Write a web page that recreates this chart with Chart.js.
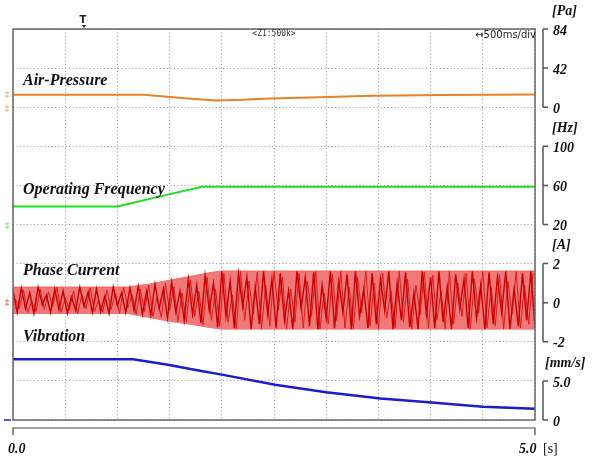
<!DOCTYPE html>
<html>
<head>
<meta charset="utf-8">
<script src="https://cdn.jsdelivr.net/npm/chart.js@4/dist/chart.umd.min.js"></script>
<style>
    body { margin: 0; background: #fff; }
    #wrap { width: 594px; height: 460px; }
</style>
</head>
<body>
<div id="wrap"><canvas id="scope" width="594" height="460"></canvas></div>
<script>
// time axis [s]
const timeMin = 0;
const timeMax = 5.0;
const timeStep = 0.5;

// air pressure [Pa]
const pressureTimes = [0, 1.25, 1.48, 1.67, 1.95, 2.2, 2.46, 2.84, 3.45, 4.12, 5.0];
const pressureValues = [13.5, 13.5, 11.1, 9.4, 7.2, 7.9, 9.4, 10.4, 12.2, 13.2, 13.6];

// operating frequency [Hz]
const freqTimes = [0, 1.0, 1.4, 1.81, 5.0];
const freqValues = [38.5, 38.5, 48.5, 58.5, 58.5];

// phase current [A] : envelope + two sampled traces (one sample every 0.04 s, second one shifted 0.02 s)
const envTimes = [0, 1.1, 1.3, 1.5, 1.7, 1.9, 2.0, 5.0];
const envUpper = [0.8, 0.8, 0.95, 1.15, 1.35, 1.55, 1.62, 1.62];
const envLower = [-0.55, -0.55, -0.75, -0.95, -1.1, -1.28, -1.35, -1.35];
const currentStep = 0.04;
const currentValues = [
    0.6, -0.5, 0.75, -0.3, 0.5, -0.55, 0.8, -0.1, 0.4, -0.5,
    0.7, -0.35, 0.6, -0.55, 0.3, -0.4, 0.8, -0.2, 0.55, -0.5,
    0.7, -0.45, 0.35, -0.55, 0.8, -0.15, 0.5, -0.5, 0.75, -0.4,
    0.85, -0.6, 0.6, -0.65, 0.95, -0.3, 0.7, -0.8, 1.05, -0.5,
    0.6, -0.9, 1.2, -0.6, 0.9, -1.05, 1.4, -0.4, 1.0, -1.25,
    1.6, -0.7, 1.1, -1.3, 1.5, -0.2, 1.3, -1.35, 0.8, -1.1,
    1.6, -0.6, 1.2, -1.3, 1.5, -0.9, 0.6, -1.35, 1.6, -0.3,
    1.3, -1.2, 1.55, -1.35, 0.9, -0.8, 1.6, -1.3, 1.1, -0.5,
    1.45, -1.35, 1.6, -0.7, 0.7, -1.3, 1.5, -1.1, 1.2, -0.4,
    1.6, -1.35, 1.0, -0.9, 1.55, -1.25, 0.5, -1.35, 1.6, -0.6,
    1.3, -1.3, 1.6, -1.0, 0.8, -1.35, 1.45, -0.3, 1.2, -1.3,
    1.6, -0.8, 0.9, -1.35, 1.55, -1.1, 1.3, -0.5, 1.6, -1.35,
    0.7, -1.2, 1.5, -0.9, 1.6, -1.3
];
const currentValuesB = [
    0.2, -0.3, 0.65, -0.5, 0.1, -0.45, 0.7, -0.35, 0.55, -0.2,
    0.8, -0.5, 0.25, -0.4, 0.6, -0.55, 0.4, -0.3, 0.75, -0.45,
    0.15, -0.5, 0.65, -0.35, 0.5, -0.55, 0.8, -0.25, 0.4, -0.6,
    0.7, -0.45, 0.9, -0.7, 0.3, -0.75, 1.0, -0.4, 0.8, -0.95,
    0.5, -1.0, 1.15, -0.7, 0.6, -1.15, 1.3, -0.9, 0.7, -1.2,
    1.5, -1.0, 0.4, -1.35, 1.6, -0.9, 1.1, -0.6, 1.55, -1.35,
    0.9, -1.2, 1.6, -0.4, 1.3, -1.35, 0.7, -1.0, 1.5, -1.3,
    1.1, -0.7, 1.6, -1.35, 0.5, -1.1, 1.45, -0.9, 1.6, -1.3,
    0.8, -1.35, 1.3, -0.5, 1.6, -1.2, 1.0, -1.35, 1.5, -0.8,
    0.6, -1.3, 1.6, -1.0, 1.2, -1.35, 0.9, -0.6, 1.55, -1.3,
    1.4, -0.9, 0.6, -1.35, 1.6, -1.1, 1.0, -0.7, 1.5, -1.35,
    1.2, -0.5, 1.6, -1.3, 0.8, -1.2, 1.45, -1.35, 1.1, -0.6,
    1.6, -1.3, 0.9, -1.1, 1.5
];

// vibration [mm/s]
const vibTimes = [0, 1.15, 1.47, 1.79, 2.0, 2.51, 3.0, 3.52, 4.01, 4.5, 5.0];
const vibValues = [7.76, 7.76, 7.1, 6.3, 5.8, 4.5, 3.55, 2.76, 2.24, 1.71, 1.45];

// right hand scales
const paTicks = [0, 42, 84];
const hzTicks = [20, 60, 100];
const ampTicks = [-2, 0, 2];
const vibTicks = [0, 5.0];

const toPoints = (xs, ys) => xs.map((x, i) => ({ x: x, y: ys[i] }));
const currentPoints = currentValues.map((v, i) => ({ x: i * currentStep, y: v }));
const currentPointsB = currentValuesB.map((v, i) => ({ x: currentStep / 2 + i * currentStep, y: v }));

const serif = "'Liberation Serif', 'Times New Roman', serif";

const scopeDecor = {
    id: 'scopeDecor',
    afterDraw: (chart) => {
        const ctx = chart.ctx;
        const a = chart.chartArea;
        ctx.save();

        // frame
        ctx.strokeStyle = "#666";
        ctx.lineWidth = 1.5;
        ctx.strokeRect(a.left, a.top, a.right - a.left, a.bottom - a.top);

        // time bracket
        ctx.strokeStyle = "#444";
        ctx.lineWidth = 1.2;
        ctx.beginPath();
        ctx.moveTo(a.left, a.bottom + 15);
        ctx.lineTo(a.left, a.bottom + 8);
        ctx.lineTo(a.right, a.bottom + 8);
        ctx.lineTo(a.right, a.bottom + 15);
        ctx.stroke();

        ctx.fillStyle = "#111";
        ctx.font = "italic bold 14px " + serif;
        ctx.textBaseline = "middle";
        ctx.textAlign = "left";
        ctx.fillText(timeMin.toFixed(1), a.left - 5, a.bottom + 29);
        ctx.fillText(timeMax.toFixed(1), a.right - 16, a.bottom + 29);
        ctx.font = "14px " + serif;
        ctx.fillText("[s]", a.right + 8, a.bottom + 29);

        // right brackets
        const axes = [
            { id: 'yPa', ticks: paTicks, labels: paTicks.map(String), unit: "[Pa]", ux: 552 },
            { id: 'yHz', ticks: hzTicks, labels: hzTicks.map(String), unit: "[Hz]", ux: 552 },
            { id: 'yA', ticks: ampTicks, labels: ampTicks.map(String), unit: "[A]", ux: 552 },
            { id: 'yV', ticks: vibTicks, labels: vibTicks.map(v => v == 0 ? "0" : v.toFixed(1)), unit: "[mm/s]", ux: 545 }
        ];
        const bx = a.right + 8;
        axes.forEach(ax => {
            const s = chart.scales[ax.id];
            const top = s.getPixelForValue(ax.ticks[ax.ticks.length - 1]);
            const bot = s.getPixelForValue(ax.ticks[0]);
            ctx.strokeStyle = "#555";
            ctx.lineWidth = 1.5;
            ctx.beginPath();
            ctx.moveTo(bx, top);
            ctx.lineTo(bx, bot);
            ax.ticks.forEach(t => {
                const py = s.getPixelForValue(t);
                ctx.moveTo(bx, py);
                ctx.lineTo(bx + 5, py);
            });
            ctx.stroke();
            ctx.fillStyle = "#111";
            ctx.font = "italic bold 14px " + serif;
            ctx.textAlign = "left";
            ax.ticks.forEach((t, i) => {
                ctx.fillText(ax.labels[i], bx + 10, s.getPixelForValue(t) + 2);
            });
            ctx.fillText(ax.unit, ax.ux, top - 18);
        });

        // trace titles
        ctx.font = "italic bold 16px " + serif;
        ctx.fillStyle = "#111";
        ctx.fillText("Air-Pressure", 23, 81);
        ctx.fillText("Operating Frequency", 23, 190);
        ctx.fillText("Phase Current", 23, 271);
        ctx.fillText("Vibration", 23, 337);

        // scope annotations
        ctx.font = "8px 'DejaVu Sans Mono', monospace";
        ctx.fillStyle = "#333";
        ctx.textAlign = "center";
        ctx.fillText("<Z1:500k>", 274, 34);
        ctx.font = "10px 'DejaVu Sans', sans-serif";
        ctx.fillStyle = "#222";
        ctx.textAlign = "right";
        ctx.fillText("↔500ms/div", 536, 35);
        ctx.font = "bold 10px 'DejaVu Sans', sans-serif";
        ctx.textAlign = "center";
        ctx.fillText("T", 83, 20);
        ctx.beginPath();
        ctx.moveTo(82, 25); ctx.lineTo(86, 25); ctx.lineTo(84, 28);
        ctx.fill();

        // channel markers on the left edge
        ctx.font = "9px " + serif;
        const marks = [["#e8822a", 95], ["#e8822a", 109], ["#22cc22", 226], ["#dd0000", 303]];
        marks.forEach(m => {
            ctx.fillStyle = m[0];
            ctx.fillText("‡", 7, m[1]);
        });
        ctx.strokeStyle = "#2222cc";
        ctx.lineWidth = 1.5;
        ctx.beginPath();
        ctx.moveTo(4, a.bottom);
        ctx.lineTo(11, a.bottom);
        ctx.stroke();

        ctx.restore();
    }
};

// datasets are painted from last to first, so the current band comes after its traces
new Chart(
    document.getElementById('scope'),
    {
        type: 'line',
        plugins: [scopeDecor],
        options: {
            responsive: false,
            animation: false,
            layout: {
                padding: { left: 13, top: 29, right: 59, bottom: 40 }
            },
            elements: {
                point: { radius: 0 },
                line: { tension: 0 }
            },
            plugins: {
                legend: { display: false },
                tooltip: { enabled: false }
            },
            scales: {
                x: {
                    type: 'linear',
                    min: timeMin,
                    max: timeMax,
                    ticks: { display: false, stepSize: timeStep },
                    grid: { drawTicks: false, color: "#999", lineWidth: 1 },
                    border: { display: false, dash: [1, 2.5] }
                },
                yDiv: {
                    type: 'linear',
                    position: 'left',
                    min: 0,
                    max: 10,
                    ticks: { display: false, stepSize: 1 },
                    grid: { drawTicks: false, color: "#999", lineWidth: 1 },
                    border: { display: false, dash: [1, 2.5] }
                },
                yPa: { type: 'linear', display: false, min: -336, max: 84 },
                yHz: { type: 'linear', display: false, min: -180, max: 220 },
                yA: { type: 'linear', display: false, min: -6, max: 14 },
                yV: { type: 'linear', display: false, min: 0, max: 50 }
            }
        },
        data: {
            datasets: [
                {
                    label: 'Air-Pressure',
                    yAxisID: 'yPa',
                    data: toPoints(pressureTimes, pressureValues),
                    borderColor: "#e8822a",
                    borderWidth: 2
                },
                {
                    label: 'Operating Frequency',
                    yAxisID: 'yHz',
                    data: toPoints(freqTimes, freqValues),
                    borderColor: "#22dd22",
                    borderWidth: 2
                },
                {
                    label: 'Phase Current',
                    yAxisID: 'yA',
                    data: currentPoints,
                    borderColor: "#c80000",
                    borderWidth: 1.4
                },
                {
                    label: 'Phase Current B',
                    yAxisID: 'yA',
                    data: currentPointsB,
                    borderColor: "#dc1c1c",
                    borderWidth: 1
                },
                {
                    label: 'Phase Current upper',
                    yAxisID: 'yA',
                    data: toPoints(envTimes, envUpper),
                    borderColor: "#e86a6a",
                    borderWidth: 1,
                    backgroundColor: "rgb(240, 120, 120)",
                    fill: '+1'
                },
                {
                    label: 'Phase Current lower',
                    yAxisID: 'yA',
                    data: toPoints(envTimes, envLower),
                    borderColor: "#e86a6a",
                    borderWidth: 1
                },
                {
                    label: 'Vibration',
                    yAxisID: 'yV',
                    data: toPoints(vibTimes, vibValues),
                    borderColor: "#1c1ccf",
                    borderWidth: 2.5
                }
            ]
        }
    }
);
</script>
</body>
</html>
